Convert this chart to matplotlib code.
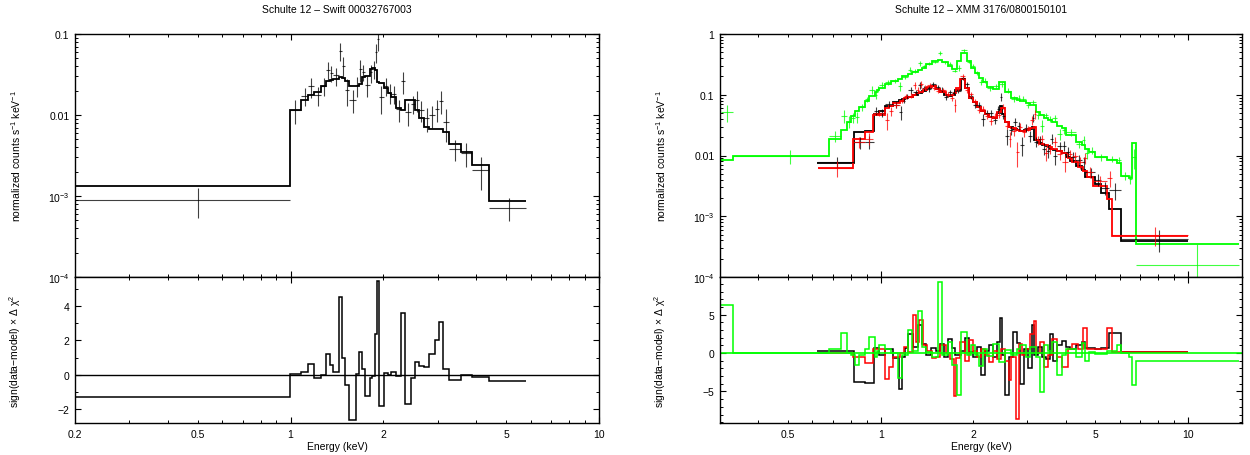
import numpy as np
import matplotlib as mpl
mpl.use("Agg")
from matplotlib import pyplot as plt
from matplotlib.ticker import FixedLocator, FuncFormatter, NullFormatter, LogLocator, MultipleLocator

mpl.rcParams.update({
    "font.family": ["Liberation Sans", "DejaVu Sans"],
    "mathtext.fontset": "custom",
    "mathtext.rm": "Liberation Sans",
    "mathtext.it": "Liberation Sans:italic",
    "mathtext.default": "regular",
})

############# Data ########
# Swift XRT spectrum (left)
sw_edges = [0.01, 0.993, 1.081, 1.139, 1.188, 1.258, 1.306, 1.339, 1.369, 1.436,
            1.465, 1.497, 1.551, 1.626, 1.667, 1.701, 1.744, 1.806, 1.842, 1.879,
            1.912, 1.936, 2.005, 2.065, 2.123, 2.193, 2.288, 2.351, 2.454, 2.534,
            2.604, 2.704, 2.820, 2.942, 3.024, 3.117, 3.260, 3.556, 3.880, 4.395,
            5.810]
sw_model = [0.00132, 0.0114, 0.01545, 0.0175, 0.0194, 0.0230, 0.0265, 0.0273, 0.0278, 0.0297,
            0.0285, 0.0265, 0.0230, 0.0226, 0.0241, 0.0292, 0.0306, 0.0370, 0.0380, 0.0355,
            0.0258, 0.0249, 0.0217, 0.0187, 0.0165, 0.0121, 0.0114, 0.0152, 0.0153, 0.0116,
            0.0091, 0.00718, 0.00672, 0.00664, 0.0068, 0.00622, 0.00439, 0.00346, 0.00241, 0.00086]
sw_data = [0.0009, 0.0116, 0.0172, 0.0225, 0.0176, 0.0230, 0.036, 0.033, 0.0308, 0.062,
           0.040, 0.0205, 0.0153, 0.0232, 0.037, 0.0335, 0.0234, 0.0335, 0.0375, 0.060,
           0.087, 0.0165, 0.0228, 0.0187, 0.0182, 0.0117, 0.0261, 0.0108, 0.0137, 0.0154,
           0.0115, 0.0092, 0.0100, 0.0117, 0.0150, 0.0083, 0.0038, 0.0034, 0.0021, 0.00072]
sw_err = [0.00036, 0.0039, 0.0042, 0.0062, 0.0045, 0.0060, 0.009, 0.0078, 0.0077, 0.015,
          0.0115, 0.0076, 0.0048, 0.0065, 0.0112, 0.0075, 0.0065, 0.0085, 0.0095, 0.016,
          0.026, 0.0062, 0.0058, 0.0052, 0.0045, 0.0035, 0.0078, 0.0034, 0.0035, 0.0044,
          0.0034, 0.0030, 0.0031, 0.0036, 0.0047, 0.0037, 0.0011, 0.0011, 0.00090, 0.00023]
sw_resid = [-1.31, 0.04, 0.17, 0.64, -0.18, -0.01, 1.19, 0.56, 0.15, 4.56,
            0.99, -0.63, -2.63, 0.04, 1.32, 0.35, -1.23, -0.19, -0.07, 2.36,
            5.47, -1.85, 0.10, 0.0, 0.15, -0.10, 3.58, -1.72, -0.21, 0.74,
            0.50, 0.43, 1.19, 2.0, 3.1, 0.31, -0.32, -0.03, -0.13, -0.34]

# XMM spectra (right): black, red, green groups
k_edges = [0.620, 0.818, 0.889, 0.948, 0.985, 1.030, 1.093, 1.146, 1.176, 1.201,
           1.229, 1.274, 1.324, 1.363, 1.404, 1.459, 1.512, 1.557, 1.604, 1.652,
           1.701, 1.752, 1.832, 1.887, 1.943, 2.001, 2.061, 2.123, 2.186, 2.252,
           2.320, 2.389, 2.439, 2.475, 2.534, 2.610, 2.689, 2.769, 2.852, 2.920,
           3.026, 3.116, 3.162, 3.257, 3.355, 3.456, 3.559, 3.644, 3.753, 3.888,
           4.005, 4.124, 4.311, 4.506, 4.642, 4.997, 5.224, 5.542, 6.054, 10.0]
k_model = [0.0075, 0.024, 0.025, 0.048, 0.055, 0.065, 0.075, 0.082, 0.085, 0.088,
           0.093, 0.100, 0.108, 0.115, 0.130, 0.140, 0.125, 0.110, 0.100, 0.097,
           0.100, 0.120, 0.180, 0.130, 0.090, 0.075, 0.062, 0.055, 0.048, 0.043,
           0.042, 0.050, 0.065, 0.048, 0.035, 0.029, 0.027, 0.026, 0.025, 0.026,
           0.027, 0.029, 0.018, 0.016, 0.015, 0.0145, 0.013, 0.0125, 0.012, 0.0112,
           0.0095, 0.0082, 0.0068, 0.0058, 0.0045, 0.0034, 0.0024, 0.0013, 0.00039]
k_data = [0.0079, 0.0165, 0.017, 0.055, 0.051, 0.070, 0.069, 0.052, 0.080, 0.095,
          0.118, 0.109, 0.145, 0.128, 0.125, 0.150, 0.132, 0.122, 0.093, 0.110,
          0.107, 0.115, 0.187, 0.150, 0.094, 0.069, 0.069, 0.040, 0.051, 0.050,
          0.038, 0.058, 0.093, 0.045, 0.021, 0.026, 0.036, 0.031, 0.015, 0.0288,
          0.021, 0.042, 0.017, 0.0185, 0.013, 0.012, 0.019, 0.0098, 0.0145, 0.0145,
          0.0115, 0.0095, 0.0085, 0.0078, 0.0053, 0.0040, 0.0029, 0.0027, 0.00043]
k_err = [0.0016, 0.0039, 0.0041, 0.0085, 0.0075, 0.0075, 0.0078, 0.014, 0.0075, 0.0085,
         0.016, 0.010, 0.019, 0.012, 0.012, 0.012, 0.012, 0.011, 0.010, 0.0097,
         0.009, 0.009, 0.013, 0.014, 0.009, 0.0085, 0.0078, 0.009, 0.0055, 0.007,
         0.0055, 0.0068, 0.013, 0.0055, 0.006, 0.0042, 0.0054, 0.0044, 0.005, 0.004,
         0.0042, 0.0068, 0.003, 0.0028, 0.0028, 0.0028, 0.0038, 0.0027, 0.0025, 0.0026,
         0.0022, 0.0018, 0.0017, 0.0017, 0.0010, 0.0009, 0.0007, 0.00085, 0.00017]
k_resid = [0.3, -3.8, -3.9, 0.7, -0.3, 0.5, -0.6, -4.7, -0.5, 0.7,
           2.5, 0.8, 3.7, 1.2, -0.2, 0.7, 0.3, 1.2, -0.5, 1.8,
           0.6, -0.3, 0.3, 1.9, 0.2, -0.5, 0.8, -2.8, 0.3, 1.0,
           -0.5, 1.4, 4.6, -0.3, -5.5, -0.5, 2.8, 1.3, -4.0, 0.5,
           -2.0, 3.7, -0.2, 0.8, -0.5, -0.8, 2.5, -1.0, 1.0, 1.6,
           0.8, 0.5, 1.0, 1.4, 0.6, 0.5, 0.6, 2.6, 0.1]

r_edges = [0.624, 0.813, 0.889, 0.943, 1.030, 1.061, 1.093, 1.159, 1.194, 1.229,
           1.274, 1.304, 1.335, 1.375, 1.417, 1.468, 1.512, 1.557, 1.627, 1.676,
           1.727, 1.763, 1.815, 1.887, 1.943, 2.001, 2.061, 2.123, 2.186, 2.252,
           2.320, 2.389, 2.460, 2.534, 2.610, 2.665, 2.753, 2.810, 2.894, 2.981,
           3.070, 3.162, 3.209, 3.306, 3.405, 3.507, 3.612, 3.753, 3.888, 4.064,
           4.186, 4.375, 4.546, 4.711, 4.924, 5.461, 5.674, 10.0]
r_model = [0.0062, 0.019, 0.024, 0.047, 0.060, 0.066, 0.072, 0.080, 0.087, 0.092,
           0.100, 0.105, 0.110, 0.120, 0.135, 0.140, 0.125, 0.110, 0.100, 0.098,
           0.105, 0.130, 0.180, 0.130, 0.090, 0.075, 0.062, 0.055, 0.048, 0.043,
           0.042, 0.052, 0.060, 0.035, 0.029, 0.028, 0.026, 0.025, 0.025, 0.026,
           0.028, 0.030, 0.018, 0.0155, 0.0148, 0.014, 0.0128, 0.012, 0.011, 0.009,
           0.0078, 0.0065, 0.0056, 0.0045, 0.0032, 0.0019, 0.00047]
r_data = [0.0062, 0.017, 0.019, 0.051, 0.038, 0.054, 0.067, 0.080, 0.095, 0.096,
          0.145, 0.120, 0.150, 0.131, 0.142, 0.130, 0.117, 0.120, 0.100, 0.089,
          0.068, 0.123, 0.200, 0.118, 0.102, 0.079, 0.057, 0.059, 0.045, 0.037,
          0.045, 0.047, 0.064, 0.031, 0.019, 0.025, 0.0115, 0.030, 0.024, 0.028,
          0.038, 0.048, 0.018, 0.019, 0.011, 0.013, 0.017, 0.0105, 0.0078, 0.0105,
          0.0098, 0.0077, 0.0092, 0.0053, 0.0038, 0.0043, 0.00049]
r_err = [0.0018, 0.0035, 0.0042, 0.006, 0.012, 0.009, 0.007, 0.008, 0.009, 0.009,
         0.020, 0.012, 0.019, 0.011, 0.012, 0.012, 0.011, 0.010, 0.009, 0.010,
         0.016, 0.009, 0.016, 0.012, 0.009, 0.0075, 0.007, 0.0055, 0.0055, 0.0055,
         0.0055, 0.0055, 0.0055, 0.004, 0.0053, 0.0042, 0.005, 0.0045, 0.0035, 0.003,
         0.0063, 0.0088, 0.003, 0.0028, 0.0028, 0.0025, 0.0031, 0.0022, 0.0024, 0.002,
         0.0018, 0.0017, 0.002, 0.0011, 0.0008, 0.0013, 0.00017]
r_resid = [0.0, -0.5, -1.3, 0.5, -3.4, -1.8, -0.5, 0.0, 0.8, 0.2,
           4.9, 1.5, 4.3, 1.0, 0.3, -0.7, -0.5, 1.0, 0.0, -0.8,
           -5.6, -0.6, 1.5, -1.0, 1.7, 0.3, -0.5, 0.5, -0.3, -1.2,
           0.3, -0.8, 0.5, -1.0, -3.5, -0.5, -8.6, 1.2, -0.2, 0.5,
           2.5, 4.2, 0.0, 1.5, -1.8, -0.3, 1.8, -0.5, -1.8, 0.5,
           1.2, 0.5, 3.2, 0.5, 0.5, 3.3, 0.1]

g_edges = [0.303, 0.3305, 0.681, 0.744, 0.778, 0.801, 0.825, 0.850, 0.889, 0.915,
           0.957, 0.971, 0.985, 1.030, 1.077, 1.142, 1.176, 1.229, 1.266, 1.324,
           1.363, 1.404, 1.468, 1.534, 1.580, 1.652, 1.701, 1.778, 1.832, 1.915,
           1.972, 2.031, 2.092, 2.154, 2.219, 2.320, 2.424, 2.534, 2.649, 2.769,
           2.852, 2.981, 3.070, 3.209, 3.306, 3.405, 3.507, 3.612, 3.753, 3.888,
           4.005, 4.311, 4.506, 4.642, 4.781, 4.997, 5.461, 5.878, 6.054, 6.424,
           6.577, 6.776, 14.68]
g_model = [0.0085, 0.0100, 0.0185, 0.0265, 0.036, 0.045, 0.054, 0.064, 0.078, 0.095,
           0.110, 0.118, 0.130, 0.150, 0.170, 0.185, 0.200, 0.220, 0.240, 0.260,
           0.280, 0.320, 0.360, 0.370, 0.350, 0.300, 0.270, 0.360, 0.490, 0.360,
           0.280, 0.230, 0.190, 0.160, 0.135, 0.125, 0.165, 0.110, 0.090, 0.083,
           0.078, 0.074, 0.068, 0.052, 0.047, 0.041, 0.038, 0.035, 0.031, 0.028,
           0.022, 0.017, 0.0148, 0.013, 0.0115, 0.0095, 0.0083, 0.0075, 0.0046, 0.0043,
           0.016, 0.00035]
g_data = [0.052, 0.0098, 0.021, 0.045, 0.036, 0.042, 0.043, 0.062, 0.084, 0.120,
          0.100, 0.125, 0.145, 0.162, 0.170, 0.140, 0.193, 0.260, 0.248, 0.330,
          0.295, 0.325, 0.350, 0.490, 0.340, 0.322, 0.250, 0.280, 0.540, 0.350,
          0.300, 0.226, 0.165, 0.171, 0.127, 0.140, 0.150, 0.117, 0.086, 0.089,
          0.086, 0.068, 0.075, 0.047, 0.031, 0.046, 0.040, 0.041, 0.023, 0.026,
          0.024, 0.0155, 0.018, 0.0108, 0.012, 0.0093, 0.0088, 0.0085, 0.0046, 0.0041,
          0.0094, 0.000155]
g_err = [0.017, 0.0025, 0.004, 0.011, 0.008, 0.008, 0.009, 0.008, 0.009, 0.017,
         0.014, 0.014, 0.015, 0.016, 0.015, 0.025, 0.014, 0.023, 0.016, 0.030,
         0.017, 0.017, 0.016, 0.040, 0.018, 0.018, 0.017, 0.034, 0.030, 0.020,
         0.020, 0.018, 0.019, 0.015, 0.013, 0.013, 0.014, 0.011, 0.009, 0.009,
         0.008, 0.008, 0.008, 0.007, 0.007, 0.005, 0.004, 0.005, 0.0048, 0.0037,
         0.0028, 0.0021, 0.0028, 0.0022, 0.0016, 0.0012, 0.0009, 0.001, 0.0007, 0.0007,
         0.0033, 0.0002]
g_resid = [6.3, 0.0, 0.5, 2.6, 0.0, -0.3, -1.5, -0.2, 0.5, 2.1,
           -0.5, 0.3, 1.0, 0.5, 0.0, -3.2, -0.3, 3.0, 0.3, 5.5,
           0.8, 0.1, -0.5, 9.3, -0.3, 1.5, -1.5, -5.4, 2.8, -0.3,
           1.0, -0.2, -1.7, 0.5, -0.4, 1.2, -1.1, 0.4, -0.2, 0.5,
           1.0, -0.5, 0.8, -0.5, -5.1, 1.0, 0.3, 1.4, -2.8, -0.3,
           0.5, -0.5, 1.3, -1.0, 0.1, -0.1, 0.3, 1.0, 0.0, -0.5,
           -4.1, -1.0]

############# Plotting ########
W, H = 1250, 456
fig = plt.figure(figsize=(W / 100, H / 100), dpi=100)


def rect(x0, y0, x1, y1):
    return [x0 / W, 1 - y1 / H, (x1 - x0) / W, (y1 - y0) / H]


xlabels = {0.2: '0.2', 0.5: '0.5', 1.0: '1', 2.0: '2', 5.0: '5', 10.0: '10'}
ylabels = {1.0: '1', 0.1: '0.1', 0.01: '0.01', 1e-3: '$10^{-3}$', 1e-4: '$10^{-4}$'}


def xfmt(v, pos):
    for k, s in xlabels.items():
        if abs(v - k) < 1e-6 * k:
            return s
    return ''


def yfmt(v, pos):
    for k, s in ylabels.items():
        if abs(v - k) < 1e-6 * k:
            return s
    return ''


def style(ax):
    ax.tick_params(which='both', direction='in', top=True, right=True, labelsize=7.5, pad=4)
    ax.tick_params(which='major', length=4.5, width=0.8)
    ax.tick_params(which='minor', length=2.3, width=0.7)
    for s in ax.spines.values():
        s.set_linewidth(1.0)


def draw(ax_top, ax_bot, edges, model, data, err, resid, color):
    edges = np.array(edges)
    mid = 0.5 * (edges[:-1] + edges[1:])
    ax_top.errorbar(mid, data, xerr=[mid - edges[:-1], edges[1:] - mid], yerr=err,
                    fmt='none', ecolor=color, elinewidth=0.8, alpha=0.75, capsize=0)
    ax_top.stairs(model, edges, baseline=None, color=color, lw=1.3)
    ax_bot.stairs(resid, edges, baseline=None, color=color, lw=1.1)


panels = [
    (rect(75, 35, 599, 278), rect(75, 278, 599, 424), (0.2, 10), (1e-4, 0.1), (-2.82, 5.7), 2,
     'Schulte 12 – Swift 00032767003'),
    (rect(720, 35, 1242, 278), rect(720, 278, 1242, 424), (0.3, 15), (1e-4, 1), (-9.1, 9.9), 5,
     'Schulte 12 – XMM 3176/0800150101'),
]

axes = []
for r_top, r_bot, xl, yl, rl, rmaj, title in panels:
    at = fig.add_axes(r_top)
    ab = fig.add_axes(r_bot, sharex=at)
    for ax in (at, ab):
        ax.set_xscale('log')
        ax.set_xlim(*xl)
        ax.xaxis.set_major_locator(FixedLocator([0.1, 1, 10]))
        ax.xaxis.set_minor_locator(FixedLocator([m * d for d in (0.1, 1) for m in range(2, 10)]))
        ax.xaxis.set_major_formatter(FuncFormatter(xfmt))
        ax.xaxis.set_minor_formatter(FuncFormatter(xfmt))
        style(ax)
    at.set_yscale('log')
    at.set_ylim(*yl)
    at.yaxis.set_major_locator(LogLocator(base=10, numticks=10))
    at.yaxis.set_minor_locator(LogLocator(base=10, subs=np.arange(2, 10), numticks=20))
    at.yaxis.set_major_formatter(FuncFormatter(yfmt))
    at.yaxis.set_minor_formatter(NullFormatter())
    at.tick_params(which='both', labelbottom=False)
    ab.set_ylim(*rl)
    ab.yaxis.set_major_locator(MultipleLocator(rmaj))
    ab.yaxis.set_minor_locator(MultipleLocator(1))
    at.set_ylabel('normalized counts s$^{-1}$ keV$^{-1}$', fontsize=7.5)
    ab.set_ylabel(r'sign(data$-$model) $\times$ $\Delta$ $\chi^2$', fontsize=7.5)
    at.yaxis.set_label_coords(-0.10, 0.5)
    ab.yaxis.set_label_coords(-0.10, 0.5)
    ab.set_xlabel('Energy (keV)', fontsize=7.5, labelpad=2)
    fig.text(r_top[0] + r_top[2] / 2, 1 - 10 / H, title, ha='center', va='center', fontsize=7.5)
    axes.append((at, ab))

(axL1, axL2), (axR1, axR2) = axes

axL2.axhline(0, color='black', lw=1.0)
draw(axL1, axL2, sw_edges, sw_model, sw_data, sw_err, sw_resid, 'black')

axR2.axhline(0, color='#00ff00', lw=1.2)
draw(axR1, axR2, k_edges, k_model, k_data, k_err, k_resid, 'black')
draw(axR1, axR2, r_edges, r_model, r_data, r_err, r_resid, '#ff0000')
draw(axR1, axR2, g_edges, g_model, g_data, g_err, g_resid, '#00ff00')

fig.savefig('out.png', dpi=100)
print("Plotting done...")
